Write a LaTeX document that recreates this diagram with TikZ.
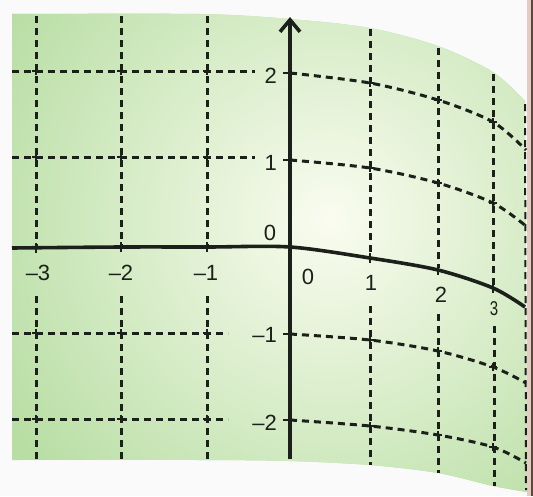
\documentclass[tikz,border=0pt]{standalone}
\usepackage{fontspec}
\setsansfont{Liberation Sans}
\usetikzlibrary{arrows.meta}
\definecolor{pagegreen}{RGB}{184,222,164}
\definecolor{pagelight}{RGB}{250,252,240}
\definecolor{inkgray}{RGB}{28,32,26}
\definecolor{edgebeige}{RGB}{226,204,196}
\definecolor{edgebrown}{RGB}{96,70,60}

\begin{document}
\begin{tikzpicture}[x=1pt, y=-1pt,
  font=\sffamily\fontsize{22}{25}\selectfont,
  grid/.style={inkgray, line width=3pt, dash pattern=on 7pt off 5pt},
  axis/.style={inkgray, line width=3.6pt},
  tick/.style={inkgray, line width=2.6pt},
  lbl/.style={inner sep=0pt, text=inkgray},
  >={Straight Barb[length=12pt, width=20pt]}]

  \useasboundingbox (0,0) rectangle (533,496);
  \fill[white!96!gray] (0,0) rectangle (533,496);
  \fill[edgebeige] (527,0) rectangle (533,496);
  \fill[edgebrown] (531,0) rectangle (533,496);

  % curved green page
  \path[fill=pagegreen, path picture={
      \shade[inner color=pagelight, outer color=pagegreen] (330,220) circle (380);}]
    plot[smooth] coordinates {(12,14) (200,14) (290,19) (370,28) (438,46) (493,72) (525,101)}
    -- plot[smooth] coordinates {(527,492) (493,486) (438,473) (370,465) (290,461) (200,460) (12,460)}
    -- cycle;

  % vertical grid lines, broken under the x labels
  \draw[grid] (36,16) -- (36,246);
  \draw[grid] (36,296) -- (36,460);
  \draw[grid] (121,16) -- (121,246);
  \draw[grid] (121,296) -- (121,460);
  \draw[grid] (207,16) -- (207,246);
  \draw[grid] (207,296) -- (207,460);
  \draw[grid] (370,29) -- (370,256);
  \draw[grid] (370,306) -- (370,465);
  \draw[grid] (438,48) -- (438,268);
  \draw[grid] (438,314) -- (438,473);
  \draw[grid] (493,74) -- (493,286);
  \draw[grid] (494,326) -- (494,486);
  \draw[grid, line width=2pt] (525,104) -- (526,490);

  % horizontal grid lines
  \draw[grid] (12,71) -- (255,71);
  \draw[grid] plot[smooth] coordinates {(290,73) (370,83) (438,100) (493,122) (526,150)};
  \draw[grid] (12,157) -- (255,157);
  \draw[grid] plot[smooth] coordinates {(290,160) (370,168) (438,183) (493,203) (526,226)};
  \draw[grid] (12,333) -- (228,333);
  \draw[grid] plot[smooth] coordinates {(290,334) (370,340) (438,351) (493,367) (526,383)};
  \draw[grid] (12,419) -- (228,419);
  \draw[grid] plot[smooth] coordinates {(290,420) (370,426) (438,435) (493,447) (526,463)};

  % crossings
  \foreach \p in {(36,71),(121,71),(207,71),(36,157),(121,157),(207,157),
                  (36,333),(121,333),(207,333),(36,419),(121,419),(207,419),
                  (370,83),(438,100),(493,122),(370,168),(438,183),(493,203),
                  (370,340),(438,351),(493,367),(370,426),(438,435),(493,447)}
    \draw[tick] \p ++(-4,0) -- ++(8,0) ++(-4,-4) -- ++(0,8);

  % axes
  \coordinate (ybot) at (290,459);
  \coordinate (ytop) at (290,17);
  \draw[axis, ->] (ybot) -- (ytop);
  \draw[axis] plot[smooth] coordinates {(12,248) (121,247) (207,247) (290,247) (370,258) (438,270) (493,288) (525,307)};
  \foreach \p in {(36,248),(121,247),(207,247),(370,258),(438,270),(493,288)}
    \draw[tick] \p ++(0,-5) -- ++(0,10);
  \foreach \p in {(290,73),(290,160),(290,334),(290,420)}
    \draw[tick] \p -- ++(-7,0);

  % labels
  \node[lbl] (xm3) at (38,273) {–3};
  \node[lbl] (xm2) at (121,273) {–2};
  \node[lbl] (xm1) at (206,273) {–1};
  \node[lbl] (o1) at (270,233) {0};
  \node[lbl] (o2) at (308,277) {0};
  \node[lbl] (x1) at (371,283) {1};
  \node[lbl] (x2) at (441,295) {2};
  \node[lbl, xscale=0.75, font=\sffamily\fontsize{20}{23}\selectfont] (x3) at (494,309) {3};
  \node[lbl, anchor=east] (y2) at (277,76) {2};
  \node[lbl, anchor=east] (y1) at (277,163) {1};
  \node[lbl, anchor=east] (ym1) at (277,335) {–1};
  \node[lbl, anchor=east] (ym2) at (277,423) {–2};
\end{tikzpicture}
\end{document}
